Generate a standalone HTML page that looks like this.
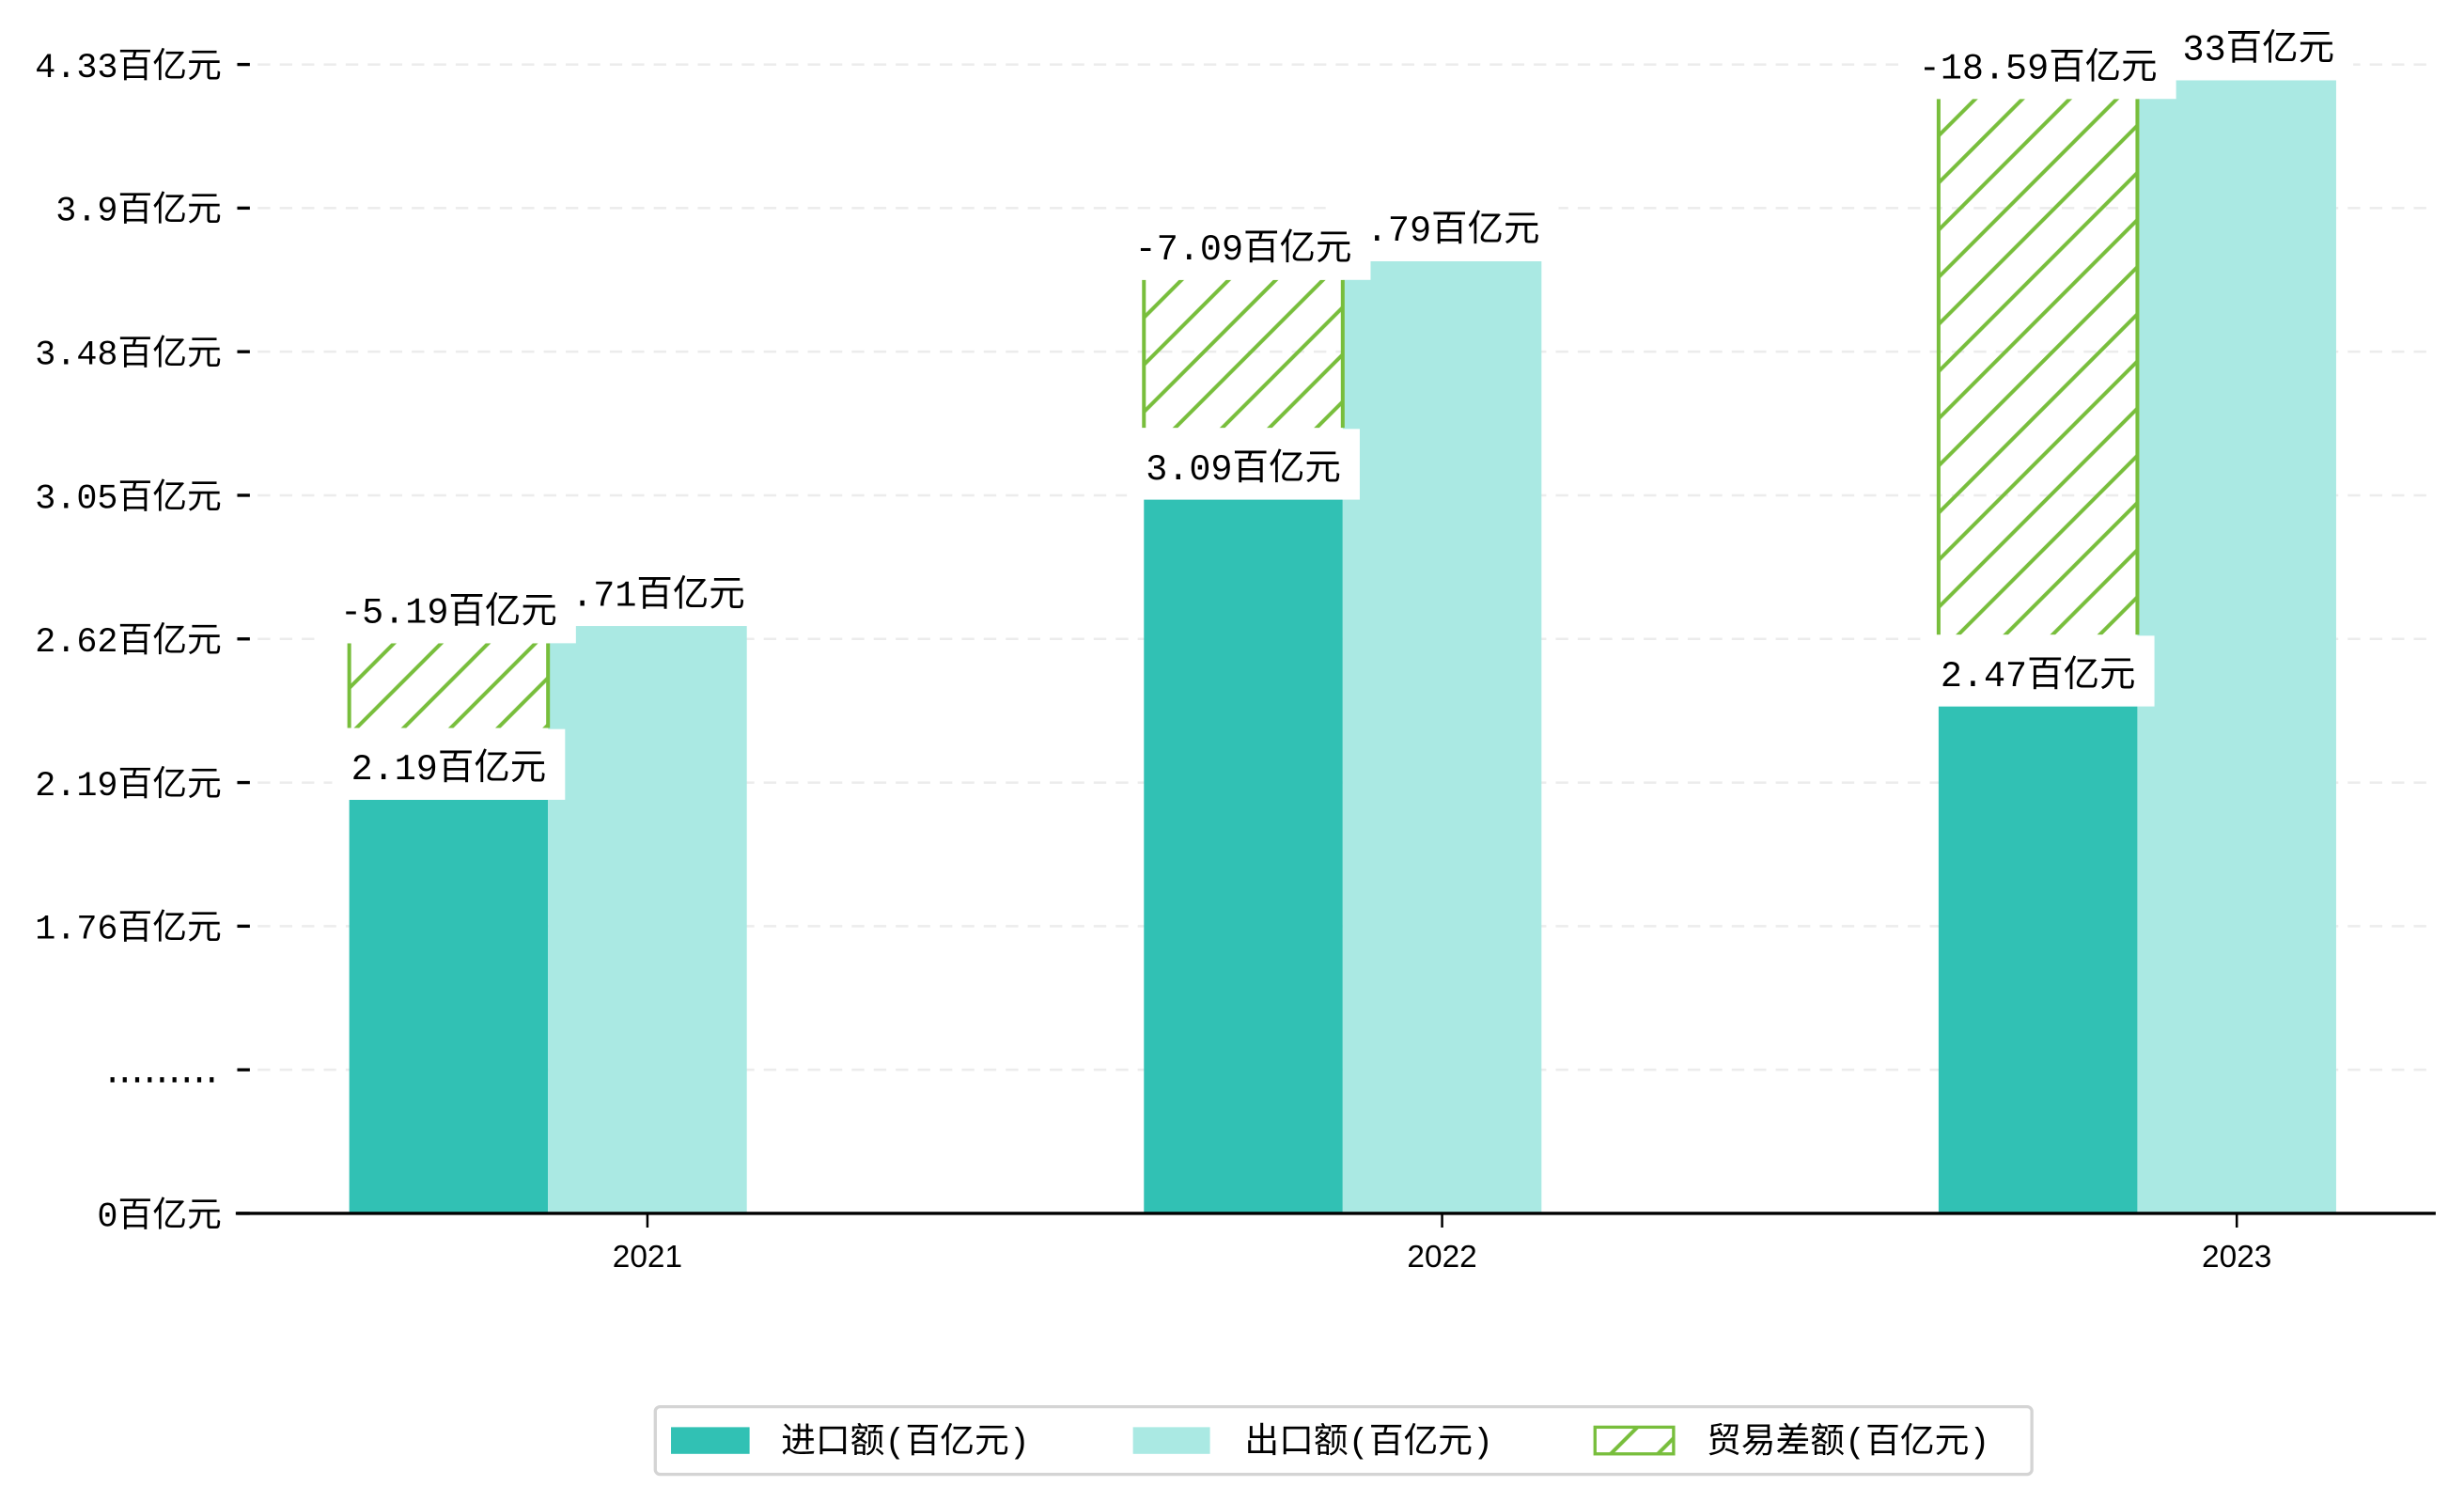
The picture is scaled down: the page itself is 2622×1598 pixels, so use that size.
<!DOCTYPE html>
<html><head><meta charset="utf-8">
<style>
html,body{margin:0;padding:0;background:#fff;}
svg{display:block;}
text{font-family:"Liberation Mono","Noto Sans CJK SC",monospace;fill:#000;}
text.xl{font-family:"Liberation Sans",sans-serif;}
</style></head>
<body>
<svg id="chart" width="2622" height="1598" viewBox="0 0 1568 955.6" xmlns="http://www.w3.org/2000/svg">
<defs>
<pattern id="hatch" patternUnits="userSpaceOnUse" width="30" height="30">
<path d="M-7.5,7.5 L7.5,-7.5 M0,30 L30,0 M22.5,37.5 L37.5,22.5" stroke="#78be3c" stroke-width="2.4"/>
</pattern>
</defs>
<g id="grid"></g>
<g id="bars"></g>
<g id="labels"></g>
<g id="axes"></g>
<g>
<rect x="417" y="895" width="876" height="43" rx="3" fill="#fff" stroke="#d4d4d4" stroke-width="2"/>
<g>
<rect x="427" y="908" width="50" height="17" fill="#31c1b4"/>
<text x="497" y="924" font-size="22">进口额(百亿元)</text></g>
<g>
<rect x="721" y="908" width="49" height="17" fill="#aae9e3"/>
<text x="792" y="924" font-size="22">出口额(百亿元)</text></g>
<g>
<rect x="1015" y="908" width="50" height="17" fill="url(#hatch)" stroke="#78be3c" stroke-width="2"/>
<text x="1086" y="924" font-size="22">贸易差额(百亿元)</text></g>
</g>
</svg>
<script>
const categories = ["2021","2022","2023"];
const importVals = [2.88, 4.97, 3.53];
const exportVals = [4.09, 6.63, 7.89];
const balanceLow = [3.38, 5.47, 4.03];
const balanceHigh = [3.97, 6.50, 7.76];
const importLabels = ["2.19百亿元","3.09百亿元","2.47百亿元"];
const exportLabels = ["2.71百亿元","3.79百亿元","4.33百亿元"];
const balanceLabels = ["-5.19百亿元","-7.09百亿元","-18.59百亿元"];
const yTickLabels = ["0百亿元",".........","1.76百亿元","2.19百亿元","2.62百亿元","3.05百亿元","3.48百亿元","3.9百亿元","4.33百亿元"];
const yMax = 8;

const NS="http://www.w3.org/2000/svg";
const plotL=150, plotR=1550, base=772, plotT=41;
const yS = v => base - v/yMax*(base-plotT);
const xc = i => 412 + i*505.7;
const bw = 126.5;
function mk(tag, attrs, parent){const e=document.createElementNS(NS,tag);for(const k in attrs)e.setAttribute(k,attrs[k]);parent.appendChild(e);return e;}
const grid=document.getElementById('grid'), bars=document.getElementById('bars'), labels=document.getElementById('labels'), axes=document.getElementById('axes');

yTickLabels.forEach((t,i)=>{
  const v = i*yMax/(yTickLabels.length-1);
  if(i>0){
    const g = mk('line',{x1:plotL,x2:plotR,y1:yS(v),y2:yS(v),stroke:'#ececec','stroke-width':1.5,'stroke-dasharray':'8,6'},grid);
    
    
  }
  const tk = mk('line',{x1:151,x2:159,y1:yS(v),y2:yS(v),stroke:'#000','stroke-width':2},axes);
  
  
  const tx = mk('text',{x:141,y:yS(v)+8,'font-size':22,'text-anchor':'end'},axes);
  if(/^\.+$/.test(t)){ tx.setAttribute('letter-spacing','-5.3'); tx.setAttribute('x',136); }
  tx.textContent=t;
  
  
});

function labelBox(txt, cx, bottom, name){
  const g = mk('g',{},labels);
  
  
  const r = mk('rect',{fill:'#fff'},g);
  const t = mk('text',{x:cx,y:bottom-13,'font-size':23,'text-anchor':'middle'},g);
  t.textContent=txt;
  let w=t.getComputedTextLength();
  r.setAttribute('x',cx-w/2-12); r.setAttribute('width',w+24);
  r.setAttribute('y',bottom-45); r.setAttribute('height',45);
}

categories.forEach((c,i)=>{
  const ex = xc(i), ix = ex - bw;
  const bi = mk('rect',{x:ix-bw/2,y:yS(importVals[i]),width:bw,height:base-yS(importVals[i]),fill:'#31c1b4'},bars);
  
  
  const be = mk('rect',{x:ex-bw/2,y:yS(exportVals[i]),width:bw,height:base-yS(exportVals[i]),fill:'#aae9e3'},bars);
  
  
  const y1=yS(balanceHigh[i]), y2=yS(balanceLow[i]);
  const bb = mk('rect',{x:ix-bw/2,y:y1,width:bw,height:y2-y1,fill:'url(#hatch)'},bars);
  
  
  const sl = mk('path',{d:`M${ix-bw/2},${y1}V${y2}M${ix+bw/2},${y1}V${y2}`,stroke:'#78be3c','stroke-width':2.4,fill:'none'},bars);
  
  
  const xt = mk('line',{x1:ex,x2:ex,y1:base,y2:base+9,stroke:'#000','stroke-width':1.5},axes);
  
  
  const xl = mk('text',{x:ex,y:806,'font-size':20,'text-anchor':'middle','class':'xl'},axes);
  xl.textContent=c;
  
  
});
categories.forEach((c,i)=>{
  labelBox(exportLabels[i], xc(i), yS(exportVals[i]), 'export-label-'+c);
  labelBox(balanceLabels[i], xc(i)-bw, yS(balanceHigh[i]), 'balance-label-'+c);
  labelBox(importLabels[i], xc(i)-bw, yS(importVals[i]), 'import-label-'+c);
});
const ax = mk('line',{x1:plotL,x2:plotR,y1:base,y2:base,stroke:'#000','stroke-width':2},axes);


</script>
</body></html>
